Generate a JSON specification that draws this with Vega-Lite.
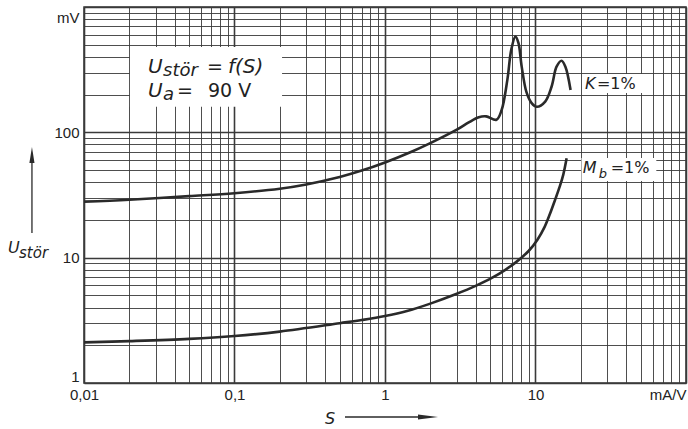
{
  "$schema": "https://vega.github.io/schema/vega-lite/v6.json",
  "width": 602,
  "height": 376,
  "autosize": {"type": "none"},
  "padding": {"left": 84, "top": 7, "right": 2, "bottom": 46},
  "background": "#ffffff",
  "config": {
    "view": {"stroke": "#333333", "strokeWidth": 1.5},
    "text": {"font": "DejaVu Sans", "color": "#222222"}
  },
  "encoding": {
    "x": {
      "field": "s", "type": "quantitative",
      "scale": {"type": "log", "domain": [0.01, 100], "nice": false},
      "axis": {
        "title": null,
        "values": [0.01,0.02,0.03,0.04,0.05,0.06,0.07,0.08,0.09,0.1,0.2,0.3,0.4,0.5,0.6,0.7,0.8,0.9,1,2,3,4,5,6,7,8,9,10,20,30,40,50,60,70,80,90,100],
        "labelExpr": "datum.value==0.01?'0,01':datum.value==0.1?'0,1':datum.value==1?'1':datum.value==10?'10':datum.value==100?'mA/V':''",
        "ticks": false, "domain": false, "grid": true,
        "gridColor": "#3a3a3a",
        "gridWidth": {"condition": {"test": "indexof([0.01,0.1,1,10,100], datum.value) >= 0", "value": 1.6}, "value": 0.9},
        "labelFont": "Liberation Sans", "labelFontSize": 15, "labelColor": "#222222",
        "labelPadding": 4, "labelOverlap": false, "labelFlush": false, "labelBound": false,
        "labelAlign": {"condition": {"test": "datum.value==100", "value": "right"}, "value": "center"}
      }
    },
    "y": {
      "field": "u", "type": "quantitative",
      "scale": {"type": "log", "domain": [1, 1000], "nice": false},
      "axis": {
        "title": null,
        "values": [1,2,3,4,5,6,7,8,9,10,20,30,40,50,60,70,80,90,100,200,300,400,500,600,700,800,900,1000],
        "labelExpr": "datum.value==1?'1':datum.value==10?'10':datum.value==100?'100':datum.value==1000?'mV':''",
        "ticks": false, "domain": false, "grid": true,
        "gridColor": "#3a3a3a",
        "gridWidth": {"condition": {"test": "indexof([1,10,100,1000], datum.value) >= 0", "value": 1.6}, "value": 0.9},
        "labelFont": "Liberation Sans", "labelFontSize": 15, "labelColor": "#222222",
        "labelPadding": 5, "labelOverlap": false, "labelBound": false, "labelFlush": false,
        "labelBaseline": {"condition": [{"test": "datum.value==1", "value": "alphabetic"}, {"test": "datum.value==1000", "value": "top"}], "value": "middle"},
        "labelOffset": {"condition": [{"test": "datum.value==1000", "value": 3}, {"test": "datum.value==1", "value": -2}], "value": 0}
      }
    }
  },
  "layer": [
    {
      "data": {"values": [
        {"box": "legend", "s": 0.0202, "s2": 0.207, "u": 160, "u2": 480},
        {"box": "K", "s": 20.4, "s2": 53.4, "u": 206, "u2": 292},
        {"box": "Mb", "s": 20.2, "s2": 63.5, "u": 40.9, "u2": 62.5}
      ]},
      "mark": {"type": "rect", "fill": "#ffffff", "stroke": null},
      "encoding": {"x2": {"field": "s2"}, "y2": {"field": "u2"}}
    },
    {
      "data": {"values": [
        {"series": "K", "s": 0.01, "u": 28.0},
        {"series": "K", "s": 0.02, "u": 29.0},
        {"series": "K", "s": 0.05, "u": 31.0},
        {"series": "K", "s": 0.1, "u": 32.7},
        {"series": "K", "s": 0.2, "u": 35.5},
        {"series": "K", "s": 0.3, "u": 38.4},
        {"series": "K", "s": 0.5, "u": 44},
        {"series": "K", "s": 0.7, "u": 49.5},
        {"series": "K", "s": 1, "u": 57.5},
        {"series": "K", "s": 1.5, "u": 70},
        {"series": "K", "s": 2, "u": 82},
        {"series": "K", "s": 3, "u": 105},
        {"series": "K", "s": 3.6, "u": 120},
        {"series": "K", "s": 4.2, "u": 132},
        {"series": "K", "s": 4.7, "u": 134},
        {"series": "K", "s": 5.5, "u": 126},
        {"series": "K", "s": 5.95, "u": 150},
        {"series": "K", "s": 6.5, "u": 262},
        {"series": "K", "s": 6.9, "u": 455},
        {"series": "K", "s": 7.35, "u": 580},
        {"series": "K", "s": 7.7, "u": 517},
        {"series": "K", "s": 8.1, "u": 333},
        {"series": "K", "s": 8.7, "u": 210},
        {"series": "K", "s": 9.4, "u": 172},
        {"series": "K", "s": 10.2, "u": 160},
        {"series": "K", "s": 11.6, "u": 176},
        {"series": "K", "s": 12.8, "u": 232},
        {"series": "K", "s": 13.8, "u": 334},
        {"series": "K", "s": 14.9, "u": 373},
        {"series": "K", "s": 15.8, "u": 334},
        {"series": "K", "s": 17.1, "u": 218},
        {"series": "Mb", "s": 0.01, "u": 2.11},
        {"series": "Mb", "s": 0.02, "u": 2.16},
        {"series": "Mb", "s": 0.05, "u": 2.25},
        {"series": "Mb", "s": 0.1, "u": 2.37},
        {"series": "Mb", "s": 0.2, "u": 2.57},
        {"series": "Mb", "s": 0.5, "u": 3.0},
        {"series": "Mb", "s": 0.7, "u": 3.18},
        {"series": "Mb", "s": 1, "u": 3.42},
        {"series": "Mb", "s": 1.4, "u": 3.75},
        {"series": "Mb", "s": 2, "u": 4.3},
        {"series": "Mb", "s": 3, "u": 5.15},
        {"series": "Mb", "s": 4, "u": 5.95},
        {"series": "Mb", "s": 5.2, "u": 6.95},
        {"series": "Mb", "s": 6.3, "u": 8.0},
        {"series": "Mb", "s": 7.5, "u": 9.3},
        {"series": "Mb", "s": 9.0, "u": 11.3},
        {"series": "Mb", "s": 10.3, "u": 13.9},
        {"series": "Mb", "s": 11.5, "u": 17.6},
        {"series": "Mb", "s": 12.5, "u": 22.5},
        {"series": "Mb", "s": 13.5, "u": 29},
        {"series": "Mb", "s": 14.5, "u": 37},
        {"series": "Mb", "s": 15.3, "u": 46},
        {"series": "Mb", "s": 16.1, "u": 62}
      ]},
      "mark": {"type": "line", "interpolate": "catmull-rom", "color": "#2a2a2a", "strokeWidth": 2.6},
      "encoding": {"detail": {"field": "series"}}
    },
    {
      "data": {"values": [
        {"s": 0.0266, "u": 298, "t": "U"},
        {"s": 0.0905, "u": 298, "t": "f(S)"},
        {"s": 0.0266, "u": 191.7, "t": "U"}
      ]},
      "mark": {"type": "text", "align": "left", "baseline": "alphabetic", "fontSize": 20, "fontStyle": "italic"},
      "encoding": {"text": {"field": "t"}}
    },
    {
      "data": {"values": [
        {"s": 0.0335, "u": 280, "t": "stör"},
        {"s": 0.0335, "u": 181, "t": "a"}
      ]},
      "mark": {"type": "text", "align": "left", "baseline": "alphabetic", "fontSize": 18, "fontStyle": "italic"},
      "encoding": {"text": {"field": "t"}}
    },
    {
      "data": {"values": [
        {"s": 0.0657, "u": 298, "t": "="},
        {"s": 0.0415, "u": 191.7, "t": "="},
        {"s": 0.0667, "u": 191.7, "t": "90 V"}
      ]},
      "mark": {"type": "text", "align": "left", "baseline": "alphabetic", "fontSize": 19},
      "encoding": {"text": {"field": "t"}}
    },
    {
      "data": {"values": [
        {"s": 21.3, "u": 222, "t": "K"},
        {"s": 20.6, "u": 47.4, "t": "M"}
      ]},
      "mark": {"type": "text", "align": "left", "baseline": "alphabetic", "fontSize": 16, "fontStyle": "italic"},
      "encoding": {"text": {"field": "t"}}
    },
    {
      "data": {"values": [
        {"s": 26.3, "u": 43.3, "t": "b"}
      ]},
      "mark": {"type": "text", "align": "left", "baseline": "alphabetic", "fontSize": 13, "fontStyle": "italic"},
      "encoding": {"text": {"field": "t"}}
    },
    {
      "data": {"values": [
        {"s": 25.6, "u": 222, "t": "=1%"},
        {"s": 31.6, "u": 47.4, "t": "=1%"}
      ]},
      "mark": {"type": "text", "align": "left", "baseline": "alphabetic", "fontSize": 16},
      "encoding": {"text": {"field": "t"}}
    },
    {
      "data": {"values": [
        {"s": 0.003126, "u": 10.9, "t": "U"},
        {"s": 0.399, "u": 0.471, "t": "S"}
      ]},
      "mark": {"type": "text", "align": "left", "baseline": "alphabetic", "fontSize": 16, "fontStyle": "italic"},
      "encoding": {"text": {"field": "t"}}
    },
    {
      "data": {"values": [
        {"s": 0.0037, "u": 9.95, "t": "stör"}
      ]},
      "mark": {"type": "text", "align": "left", "baseline": "alphabetic", "fontSize": 15, "fontStyle": "italic"},
      "encoding": {"text": {"field": "t"}}
    },
    {
      "data": {"values": [
        {"s": 0.00451, "s2": 0.00451, "u": 15.75, "u2": 62},
        {"s": 0.542, "s2": 1.85, "u": 0.5355, "u2": 0.5355}
      ]},
      "mark": {"type": "rule", "color": "#2a2a2a", "strokeWidth": 1.3},
      "encoding": {"x2": {"field": "s2"}, "y2": {"field": "u2"}}
    },
    {
      "data": {"values": [{"s": 0.00451, "u": 66}]},
      "mark": {"type": "point", "shape": "M0,-1L0.32,1L-0.32,1Z", "size": 256, "filled": true, "color": "#2a2a2a", "opacity": 1}
    },
    {
      "data": {"values": [{"s": 1.93, "u": 0.5355}]},
      "mark": {"type": "point", "shape": "M1,0L-1,-0.26L-1,0.26Z", "size": 400, "filled": true, "color": "#2a2a2a", "opacity": 1}
    }
  ]
}
